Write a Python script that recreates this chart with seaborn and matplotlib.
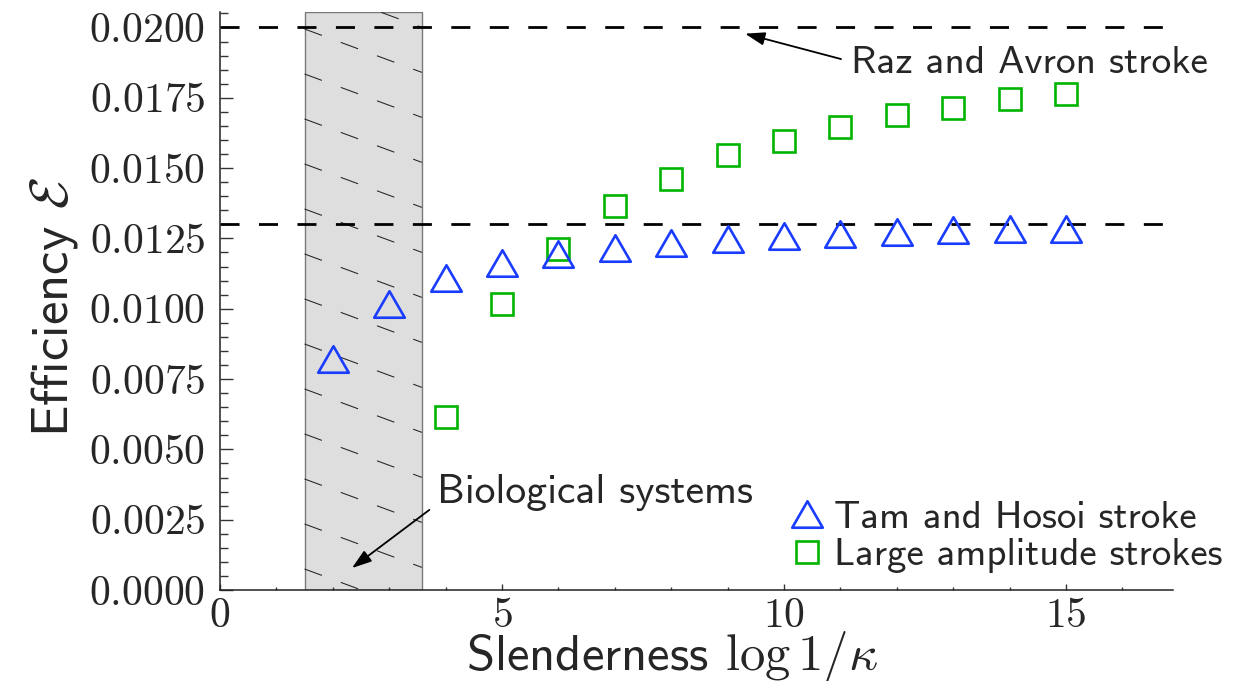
import numpy as np
import pandas as pd
import matplotlib
matplotlib.use("Agg")
import matplotlib.pyplot as plt
from matplotlib.path import Path
from matplotlib.lines import Line2D
from matplotlib.ticker import MultipleLocator, FuncFormatter
import seaborn as sns

# Swimmer efficiency versus slenderness log(1/kappa)
tam_slenderness = [2, 3, 4, 5, 6, 7, 8, 9, 10, 11, 12, 13, 14, 15]
tam_efficiency = [0.00822, 0.01018, 0.01110, 0.01161, 0.01194, 0.01217, 0.01235,
                  0.01247, 0.01258, 0.01266, 0.01274, 0.01279, 0.01282, 0.01285]
large_slenderness = [4, 5, 6, 7, 8, 9, 10, 11, 12, 13, 14, 15]
large_efficiency = [0.00614, 0.01016, 0.01212, 0.01366, 0.01463, 0.01547,
                    0.01597, 0.01647, 0.01688, 0.01715, 0.01744, 0.01764]
raz_avron_efficiency = 0.0200
tam_limit_efficiency = 0.0130
bio_range = [1.5, 3.58]
series_labels = ["Tam and Hosoi stroke", "Large amplitude strokes"]

sns.set_style("ticks")
plt.rcParams.update({
    "mathtext.fontset": "cm",
    "font.family": ["cmss10", "DejaVu Sans"],
    "lines.scale_dashes": False,
    "axes.unicode_minus": False,
})

BLUE = "#1a3cff"
GREEN = "#00b400"

fig = plt.figure(figsize=(12.47, 6.81), dpi=100)
ax = fig.add_axes([0.1764, 0.1336, 0.7643, 0.8488])
ax.set_xlim(0, 16.9)
ax.set_ylim(0, 0.02055)

# shaded band of biological slenderness with dashed hatching
ax.axvspan(bio_range[0], bio_range[1], facecolor="#dedede", edgecolor="#7a7a7a",
           lw=1.0, zorder=0.5)
fig.canvas.draw()
p0 = ax.transData.transform((0, 0))
p1 = ax.transData.transform((1, 1))
sx, sy = p1[0] - p0[0], p1[1] - p0[1]
slope = -0.37 * sx / sy
row_gap = 45.0 / sy
top_row = ax.get_ylim()[1] - 17.0 / sy
for k in range(-2, 16):
    y_start = top_row - k * row_gap
    xs = np.array(bio_range)
    ys = y_start + slope * (xs - bio_range[0])
    ax.add_line(Line2D(xs, ys, color="#222222", lw=0.75, dashes=(13.3, 14.5),
                       zorder=0.8, clip_on=True))

# reference efficiencies
for level in (raz_avron_efficiency, tam_limit_efficiency):
    ax.axhline(level, color="black", lw=2.0, dashes=(13.7, 14.0), zorder=1.5)

df_tam = pd.DataFrame({"x": tam_slenderness, "y": tam_efficiency})
df_large = pd.DataFrame({"x": large_slenderness, "y": large_efficiency})

tri = Path([(0, 0.433), (-0.5, -0.433), (0.5, -0.433), (0, 0.433)], closed=True)

sns.lineplot(data=df_large, x="x", y="y", ax=ax, linestyle="", marker="s",
             markersize=15.5, markerfacecolor="none", markeredgecolor=GREEN,
             markeredgewidth=1.9, color=GREEN, label=series_labels[1], zorder=3)
sns.lineplot(data=df_tam, x="x", y="y", ax=ax, linestyle="", marker=tri,
             markersize=22, markerfacecolor="none", markeredgecolor=BLUE,
             markeredgewidth=1.9, color=BLUE, label=series_labels[0], zorder=4)

handles, labels = ax.get_legend_handles_labels()
order = [labels.index(l) for l in series_labels]
ax.legend([handles[i] for i in order], [labels[i] for i in order],
          loc="upper left", bbox_to_anchor=(0.6315, 0.2650),
          bbox_transform=fig.transFigure, frameon=False, borderpad=0,
          handlelength=1.0, handletextpad=0.2, labelspacing=0.06,
          fontsize=28.0, borderaxespad=0)

# annotations
ax.annotate("Raz and Avron stroke", xy=(9.31, 0.01978), xytext=(11.19, 0.01872),
            fontsize=28.3, ha="left", va="center",
            arrowprops=dict(arrowstyle="-|>,head_length=0.6,head_width=0.2",
                            mutation_scale=20, lw=1.3, color="black",
                            relpos=(0, 0.55), shrinkA=5, shrinkB=0))
ax.annotate("Biological systems", xy=(2.34, 0.00078), xytext=(3.85, 0.00345),
            fontsize=30, ha="left", va="center",
            arrowprops=dict(arrowstyle="-|>,head_length=0.6,head_width=0.2",
                            mutation_scale=20, lw=1.3, color="black",
                            relpos=(0, 0.2), shrinkA=4, shrinkB=0))

# axes styling
sns.despine(ax=ax)
for side in ("left", "bottom"):
    ax.spines[side].set_linewidth(1.1)
    ax.spines[side].set_color("#222222")
ax.xaxis.set_major_locator(MultipleLocator(5))
ax.xaxis.set_minor_locator(MultipleLocator(1))
ax.yaxis.set_major_locator(MultipleLocator(0.0025))
ax.yaxis.set_minor_locator(MultipleLocator(0.0005))
ax.xaxis.set_major_formatter(FuncFormatter(lambda v, _: f"${v:.0f}$"))
ax.yaxis.set_major_formatter(FuncFormatter(lambda v, _: f"${v:.4f}$"))
ax.tick_params(axis="y", which="major", direction="in", length=9.4, width=1.0,
               color="#333333", labelsize=30, pad=10.5)
ax.tick_params(axis="y", which="minor", direction="in", length=5.5, width=1.0,
               color="#333333")
ax.tick_params(axis="x", which="major", direction="in", length=4.2, width=1.0,
               color="#333333", labelsize=30, pad=6)
ax.tick_params(axis="x", which="minor", direction="in", length=2.5, width=1.0,
               color="#333333")

ax.set_xlabel(r"Slenderness $\log 1/\kappa$", fontsize=36.5)
ax.set_ylabel(r"Efficiency $\mathcal{E}$", fontsize=38)
ax.xaxis.set_label_coords(0.474, -0.068)
ax.yaxis.set_label_coords(-0.147, 0.49)

fig.savefig("out.png", dpi=100)
